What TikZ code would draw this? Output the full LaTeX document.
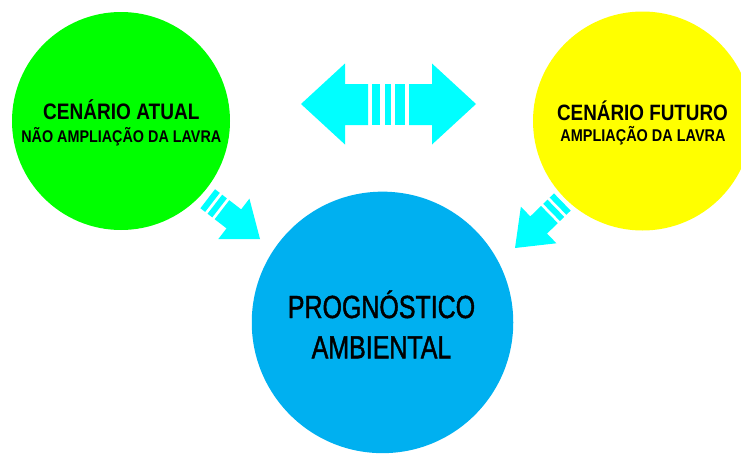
\documentclass[tikz,border=0pt]{standalone}
\usepackage{fontspec}
\newfontfamily\condA[FakeStretch=0.85]{Liberation Sans}
\newfontfamily\condB[FakeStretch=0.78,FakeBold=1.3]{Liberation Sans}
\definecolor{cgreen}{HTML}{00FF00}
\definecolor{cyellow}{HTML}{FFFF00}
\definecolor{cblue}{HTML}{00B0F0}
\definecolor{ccyan}{HTML}{00FFFF}
\tikzset{
  bubble/.style={circle, inner sep=0pt, draw=none},
  txt/.style={inner sep=0pt, anchor=base, text=black},
  diagarrow/.pic={
    \fill[ccyan] (0,0) -- (-33,25.5) -- (-33,12) -- (-48,12) -- (-48,-12) -- (-33,-12) -- (-33,-25.5) -- cycle;
    \fill[ccyan] (-51,12) rectangle (-57,-12);
    \fill[ccyan] (-60,12) rectangle (-66,-12);
  }
}
\begin{document}
\begin{tikzpicture}[x=1pt,y=1pt]
\useasboundingbox (0,0) rectangle (741,-453);
\clip (0,0) rectangle (741,-453);
% circles
\node[bubble, fill=cgreen, minimum size=218pt] (atual) at (121,-121) {};
\node[bubble, fill=cyellow, minimum size=219pt] (futuro) at (642.5,-121) {};
\node[bubble, fill=cblue, minimum size=261.5pt] (prog) at (382.5,-322.4) {};
% texts
\node[txt] (t1) at (121.3,-119) {\condA\bfseries\fontsize{22.4}{26}\selectfont CENÁRIO ATUAL};
\node[txt] (t2) at (121.3,-142.7) {\condA\bfseries\fontsize{16.9}{20}\selectfont NÃO AMPLIAÇÃO DA LAVRA};
\node[txt] (t3) at (642.5,-120) {\condA\bfseries\fontsize{22.2}{26}\selectfont CENÁRIO FUTURO};
\node[txt] (t4) at (643,-141.7) {\condA\bfseries\fontsize{17}{20}\selectfont AMPLIAÇÃO DA LAVRA};
\node[txt] (t5) at (381.5,-318) {\condB\fontsize{32}{36}\selectfont PROGNÓSTICO};
\node[txt] (t6) at (381.5,-358.3) {\condB\fontsize{32}{36}\selectfont AMBIENTAL};
% double arrow
\coordinate (dl) at (301,-104);
\coordinate (dr) at (476,-104);
\fill[ccyan] (dl) -- (345,-63.5) -- (345,-84) -- (368,-84) -- (368,-125) -- (345,-125) -- (345,-144.5) -- cycle;
\fill[ccyan] (372,-84) rectangle (380,-125);
\fill[ccyan] (385,-84) rectangle (391,-125);
\fill[ccyan] (395,-84) rectangle (405,-125);
\fill[ccyan] (dr) -- (432,-63.5) -- (432,-84) -- (409,-84) -- (409,-125) -- (432,-125) -- (432,-144.5) -- cycle;
% diagonal arrows
\pic[rotate=-37.6] (arrL) at (260,-239) {diagarrow};
\pic[rotate=224.2] (arrR) at (515,-248) {diagarrow};
\end{tikzpicture}
\end{document}
